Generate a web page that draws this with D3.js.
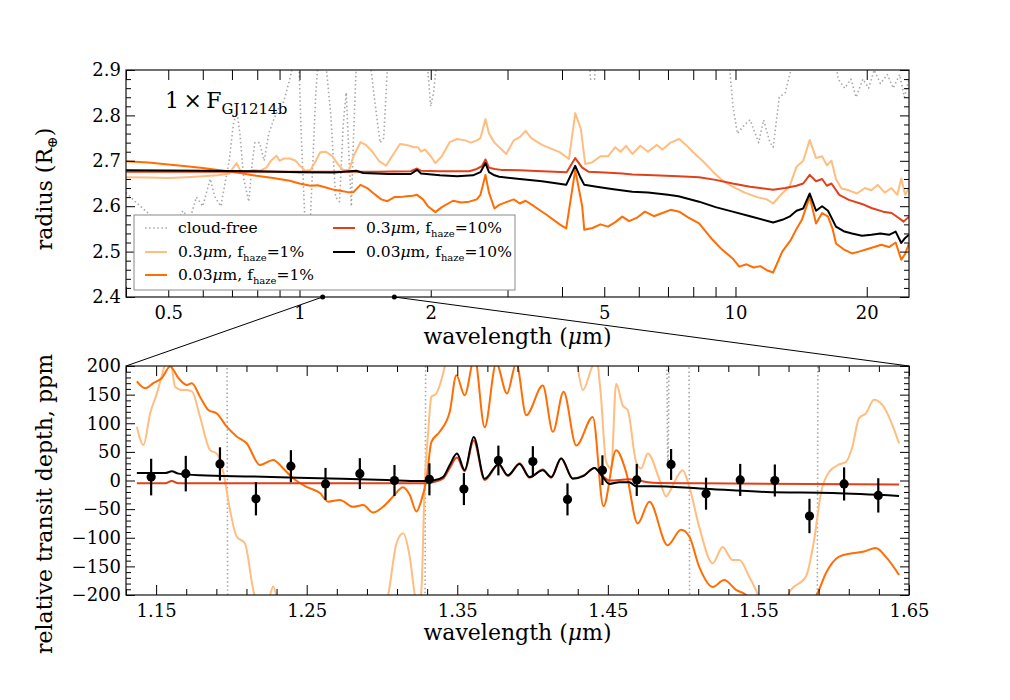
<!DOCTYPE html>
<html><head><meta charset="utf-8">
<script src="https://cdn.jsdelivr.net/npm/d3@7"></script>
<style>
body{margin:0;background:#fff;}
svg text{font-family:"DejaVu Serif","Liberation Serif",serif;fill:#000;}
</style></head><body>
<svg id="chart" width="1010" height="700"></svg>
<script>
// ---------------- DATA ----------------
// Top panel: wavelength (micron), radius (R_earth)
const topCloudFree = [[0.40,2.63],[0.42,2.61],[0.455,2.58],[0.48,2.55],[0.51,2.54],[0.54,2.59],[0.56,2.57],[0.58,2.62],[0.60,2.60],[0.624,2.66],[0.64,2.62],[0.66,2.60],[0.69,2.70],[0.705,2.78],[0.718,2.81],[0.73,2.76],[0.745,2.66],[0.757,2.63],[0.765,2.61],[0.78,2.70],[0.79,2.74],[0.81,2.74],[0.83,2.70],[0.85,2.76],[0.872,2.79],[0.90,2.82],[0.92,2.83],[0.95,2.88],[0.97,2.92],[0.99,3.0],[1.01,2.75],[1.03,2.56],[1.06,2.58],[1.09,2.85],[1.11,2.95],[1.14,2.95],[1.18,2.80],[1.21,2.62],[1.235,2.61],[1.26,2.78],[1.28,2.85],[1.30,2.70],[1.315,2.60],[1.33,2.75],[1.36,3.0],[1.42,3.0],[1.48,2.85],[1.53,2.74],[1.56,2.75],[1.60,2.95],[1.80,3.1],[1.95,2.95],[2.0,2.82],[2.03,2.85],[2.08,2.95],[3.0,3.1],[4.55,3.0],[4.65,2.88],[4.75,2.88],[4.85,3.0],[9.4,3.0],[9.7,2.9],[9.87,2.82],[10.1,2.76],[10.5,2.78],[10.8,2.79],[11.1,2.76],[11.3,2.74],[11.6,2.79],[12.0,2.74],[12.2,2.73],[12.6,2.84],[13.0,2.85],[13.4,2.90],[13.8,3.0],[16.5,3.0],[17.2,2.88],[17.8,2.86],[18.4,2.88],[18.9,2.84],[19.6,2.88],[20.2,2.86],[20.8,2.90],[21.5,2.87],[22.3,2.89],[23.0,2.86],[23.8,2.89],[24.4,2.84],[25,2.88]];
const topHaze03Pct1 = [[0.40,2.664],[0.45,2.663],[0.50,2.662],[0.55,2.664],[0.60,2.666],[0.65,2.668],[0.69,2.672],[0.705,2.685],[0.717,2.695],[0.73,2.68],[0.75,2.675],[0.78,2.68],[0.81,2.678],[0.84,2.685],[0.86,2.70],[0.886,2.711],[0.90,2.70],[0.92,2.705],[0.95,2.705],[0.98,2.70],[1.00,2.69],[1.03,2.678],[1.06,2.68],[1.09,2.70],[1.116,2.719],[1.15,2.72],[1.19,2.71],[1.23,2.69],[1.26,2.68],[1.30,2.68],[1.33,2.71],[1.38,2.741],[1.42,2.735],[1.47,2.72],[1.52,2.70],[1.58,2.689],[1.63,2.71],[1.70,2.737],[1.76,2.735],[1.83,2.73],[1.87,2.73],[1.90,2.72],[1.94,2.725],[2.0,2.71],[2.05,2.695],[2.12,2.71],[2.21,2.741],[2.30,2.748],[2.40,2.745],[2.47,2.74],[2.55,2.745],[2.60,2.75],[2.67,2.792],[2.72,2.76],[2.80,2.74],[2.98,2.715],[3.10,2.745],[3.2,2.752],[3.3,2.766],[3.4,2.75],[3.6,2.735],[3.95,2.719],[4.15,2.704],[4.29,2.805],[4.42,2.77],[4.52,2.693],[4.7,2.697],[4.9,2.71],[5.1,2.71],[5.3,2.73],[5.45,2.72],[5.61,2.733],[5.8,2.715],[6.05,2.733],[6.3,2.72],[6.6,2.735],[6.8,2.725],[7.1,2.74],[7.43,2.748],[7.7,2.735],[8.0,2.719],[8.4,2.70],[8.9,2.675],[9.35,2.656],[9.85,2.643],[10.5,2.63],[11.2,2.62],[11.8,2.615],[12.2,2.606],[12.7,2.625],[13.3,2.643],[13.8,2.687],[14.3,2.70],[14.8,2.746],[15.3,2.706],[15.8,2.71],[16.2,2.69],[16.6,2.70],[17.0,2.66],[17.5,2.639],[18.2,2.635],[19.0,2.628],[19.8,2.64],[20.5,2.635],[21.2,2.647],[22.0,2.63],[22.8,2.64],[23.5,2.625],[24.0,2.661],[24.5,2.625],[25,2.64]];
const topHaze003Pct1 = [[0.40,2.699],[0.45,2.696],[0.50,2.692],[0.55,2.688],[0.60,2.684],[0.67,2.678],[0.73,2.673],[0.797,2.667],[0.87,2.662],[0.95,2.656],[1.00,2.650],[1.06,2.645],[1.10,2.646],[1.15,2.641],[1.20,2.636],[1.24,2.634],[1.29,2.631],[1.33,2.631],[1.38,2.647],[1.43,2.64],[1.48,2.628],[1.54,2.615],[1.59,2.611],[1.65,2.62],[1.70,2.62],[1.76,2.622],[1.82,2.623],[1.86,2.625],[1.92,2.615],[1.97,2.60],[2.05,2.587],[2.12,2.598],[2.25,2.612],[2.35,2.608],[2.45,2.61],[2.55,2.615],[2.60,2.625],[2.67,2.669],[2.72,2.63],[2.80,2.595],[2.87,2.603],[3.0,2.61],[3.1,2.615],[3.2,2.606],[3.3,2.612],[3.45,2.60],[3.7,2.58],[3.95,2.56],[4.09,2.551],[4.29,2.68],[4.45,2.60],[4.5,2.548],[4.7,2.552],[4.9,2.56],[5.1,2.555],[5.3,2.565],[5.5,2.577],[5.7,2.567],[5.95,2.575],[6.2,2.588],[6.5,2.578],[6.8,2.585],[7.1,2.592],[7.43,2.588],[7.8,2.575],[8.25,2.562],[8.86,2.526],[9.3,2.505],[9.85,2.485],[10.2,2.467],[10.6,2.472],[11.0,2.465],[11.4,2.468],[11.8,2.459],[12.2,2.454],[12.8,2.50],[13.4,2.526],[13.8,2.55],[14.2,2.57],[14.8,2.621],[15.3,2.562],[15.8,2.585],[16.3,2.577],[16.7,2.55],[17.0,2.518],[17.7,2.505],[18.5,2.496],[19.2,2.50],[20.0,2.505],[20.8,2.51],[21.6,2.515],[22.5,2.51],[23.3,2.52],[24.0,2.482],[24.5,2.495],[25,2.518]];
const topHaze03Pct10 = [[0.40,2.676],[0.6,2.676],[1.0,2.676],[1.5,2.676],[1.8,2.677],[1.86,2.683],[1.9,2.678],[2.1,2.677],[2.45,2.677],[2.55,2.682],[2.62,2.688],[2.67,2.703],[2.72,2.685],[2.8,2.682],[2.9,2.68],[3.2,2.679],[3.6,2.677],[4.1,2.675],[4.29,2.706],[4.45,2.685],[4.6,2.676],[5.0,2.674],[5.5,2.672],[5.8,2.67],[6.5,2.668],[7.4,2.666],[8.25,2.664],[9.0,2.658],[9.85,2.65],[10.8,2.643],[12.2,2.636],[13.0,2.64],[13.8,2.645],[14.3,2.65],[14.8,2.669],[15.3,2.655],[15.8,2.66],[16.2,2.645],[16.6,2.65],[17.3,2.625],[18.2,2.614],[19.5,2.605],[20.5,2.596],[21.8,2.588],[22.8,2.585],[23.6,2.575],[24.3,2.566],[25,2.577]];
const topHaze003Pct10 = [[0.40,2.679],[0.6,2.678],[0.8,2.677],[1.0,2.675],[1.2,2.674],[1.35,2.678],[1.4,2.673],[1.6,2.671],[1.8,2.671],[1.86,2.68],[1.9,2.672],[2.1,2.668],[2.3,2.666],[2.5,2.668],[2.6,2.675],[2.67,2.695],[2.72,2.675],[2.8,2.668],[2.87,2.665],[3.2,2.66],[3.6,2.655],[4.09,2.647],[4.29,2.689],[4.4,2.665],[4.5,2.647],[4.8,2.643],[5.2,2.638],[5.8,2.632],[6.3,2.63],[7.0,2.625],[7.4,2.622],[8.25,2.61],[9.0,2.598],[9.85,2.588],[10.8,2.578],[12.2,2.564],[12.8,2.57],[13.3,2.577],[13.8,2.59],[14.3,2.595],[14.8,2.628],[15.3,2.59],[15.8,2.60],[16.3,2.59],[17.0,2.555],[17.7,2.545],[18.5,2.54],[19.5,2.535],[20.5,2.537],[21.5,2.54],[22.5,2.537],[23.3,2.544],[24.0,2.519],[24.5,2.53],[25,2.537]];

// Bottom panel: wavelength (micron), relative transit depth (ppm)
const botCloudFree = [[1.1372,700],[1.1963,700],[1.1983,-700],[1.3278,-700],[1.3298,700],[1.4880,700],[1.4899,22],[1.4918,700],[1.5031,700],[1.5051,-700],[1.5883,-700],[1.5903,700],[1.6434,700]];
const botHaze03Pct1 = [[1.1372,94],[1.1416,62],[1.1460,117],[1.1505,152],[1.1548,193],[1.1570,215],[1.1595,210],[1.1626,164],[1.1670,158],[1.1704,158],[1.1740,155],[1.1792,111],[1.1859,53],[1.1903,47],[1.1947,13],[1.1991,-52],[1.2035,-98],[1.2090,-110],[1.2145,-191],[1.2190,-225],[1.2240,-215],[1.2278,-185],[1.2310,-215],[1.2400,-260],[1.2800,-260],[1.3030,-210],[1.3096,-110],[1.3140,-92],[1.3184,-133],[1.3218,-200],[1.3240,-230],[1.3262,-191],[1.3284,-5],[1.3306,82],[1.3328,146],[1.3361,152],[1.3383,166],[1.3428,210],[1.3500,260],[1.4200,260],[1.4290,210],[1.4334,158],[1.4390,195],[1.4422,215],[1.4450,160],[1.4489,32],[1.4522,21],[1.4555,169],[1.4599,131],[1.4632,123],[1.4688,32],[1.4721,21],[1.4765,47],[1.4841,3],[1.4887,-28],[1.4909,-20],[1.4976,13],[1.4997,18],[1.5041,-11],[1.5107,-81],[1.5196,-145],[1.5262,-116],[1.5328,-139],[1.5373,-139],[1.5439,-168],[1.5483,-191],[1.5530,-220],[1.5620,-240],[1.5716,-191],[1.5815,-168],[1.5870,-104],[1.5915,-22],[1.5970,15],[1.6036,28],[1.6080,32],[1.6124,59],[1.6168,109],[1.6213,117],[1.6267,141],[1.6323,132],[1.6434,65]];
const botHaze003Pct1 = [[1.1372,173],[1.1427,161],[1.1482,170],[1.1538,179],[1.1593,199],[1.1648,179],[1.1704,167],[1.1737,170],[1.1792,146],[1.1847,123],[1.1903,117],[1.1969,94],[1.2035,77],[1.2101,65],[1.2190,27],[1.2278,36],[1.2344,21],[1.2410,4],[1.2499,-11],[1.2588,-22],[1.2643,-37],[1.2720,-34],[1.2808,-46],[1.2875,-43],[1.2941,-56],[1.3007,-46],[1.3074,-28],[1.3140,-12],[1.3184,-25],[1.3229,-54],[1.3262,-34],[1.3295,1],[1.3328,67],[1.3383,85],[1.3450,120],[1.3494,184],[1.3549,149],[1.3615,215],[1.3682,93],[1.3759,205],[1.3830,152],[1.3892,205],[1.3958,114],[1.4068,166],[1.4135,85],[1.4206,155],[1.4290,61],[1.4400,111],[1.4471,-45],[1.4555,53],[1.4621,15],[1.4698,-75],[1.4776,-37],[1.4897,-113],[1.4986,-86],[1.5041,-98],[1.5107,-151],[1.5196,-186],[1.5273,-174],[1.5351,-191],[1.5417,-200],[1.5500,-235],[1.5750,-240],[1.5850,-215],[1.5892,-197],[1.5948,-162],[1.6036,-133],[1.6124,-127],[1.6202,-124],[1.6279,-118],[1.6345,-133],[1.6434,-165]];
const botHaze03Pct10 = [[1.1372,-5],[1.1560,-5],[1.1604,-1],[1.1648,-5],[1.2500,-5],[1.3295,-5],[1.3339,-3],[1.3405,3],[1.3450,22],[1.3498,40],[1.3549,16],[1.3609,70],[1.3682,1],[1.3775,28],[1.3836,8],[1.3914,30],[1.3980,5],[1.4068,19],[1.4124,5],[1.4190,38],[1.4267,4],[1.4340,9],[1.4411,22],[1.4466,8],[1.4511,0],[1.4643,2],[1.4798,-4],[1.5111,-5],[1.6434,-7]];
const botHaze003Pct10 = [[1.1372,13],[1.1500,13],[1.1560,13],[1.1604,16],[1.1648,12],[1.1792,9],[1.2145,7],[1.2588,4],[1.3030,1],[1.3251,-1],[1.3339,0],[1.3405,6],[1.3450,27],[1.3498,47],[1.3549,18],[1.3609,76],[1.3682,3],[1.3775,29],[1.3836,9],[1.3914,29],[1.3980,6],[1.4068,18],[1.4124,6],[1.4190,39],[1.4267,3],[1.4340,8],[1.4411,22],[1.4466,6],[1.4511,-6],[1.4577,-3],[1.4643,-3],[1.4688,-10],[1.4798,-10],[1.5111,-14],[1.5550,-20],[1.5992,-22],[1.6434,-27]];

// Observations
const obsWavelength = [1.1467,1.1697,1.1924,1.2163,1.2395,1.2625,1.2853,1.3083,1.3315,1.3544,1.3773,1.4002,1.4232,1.4464,1.4692,1.4920,1.5152,1.5379,1.5609,1.5839,1.6069,1.6296];
const obsDepth = [6,12,29,-32,25,-6,12,0,2,-15,35,33,-33,18,1,28,-23,1,0,-62,-6,-26];
const obsError = [32,31,29,29,28,28,27,27,28,28,26,27,28,26,28,27,28,28,28,30,29,30];

// Ticks
const topXTicks = [0.5,1,2,5,10,20];
const topXMinor = [0.4,0.6,0.7,0.8,0.9,3,4,6,7,8,9];
const topYTicks = [2.4,2.5,2.6,2.7,2.8,2.9];
const botXTicks = [1.15,1.25,1.35,1.45,1.55,1.65];
const botYTicks = [-200,-150,-100,-50,0,50,100,150,200];

const legendLabels = ["cloud-free","0.3μm, f_haze=1%","0.03μm, f_haze=1%","0.3μm, f_haze=10%","0.03μm, f_haze=10%"];

// ---------------- CHART ----------------
const svg = d3.select("#chart");
const topBox = {l:126, r:909, t:70, b:297};
const botBox = {l:126, r:909, t:366, b:595};

const xTop = d3.scaleLog().domain([0.4,25]).range([topBox.l, topBox.r]);
const yTop = d3.scaleLinear().domain([2.4,2.9]).range([topBox.b, topBox.t]);
const xBot = d3.scaleLinear().domain([1.13,1.65]).range([botBox.l, botBox.r]);
const yBot = d3.scaleLinear().domain([-200,200]).range([botBox.b, botBox.t]);

const styles = [
  {stroke:"#a8a8a8", width:1.6, dash:"1.5,2.6"},
  {stroke:"#ffbd80", width:2},
  {stroke:"#ff6d05", width:2},
  {stroke:"#e2401a", width:2},
  {stroke:"#000000", width:2}
];

const defs = svg.append("defs");
[["clipTop",topBox],["clipBot",botBox]].forEach(([id,b])=>{
  defs.append("clipPath").attr("id",id).append("rect")
    .attr("x",b.l).attr("y",b.t).attr("width",b.r-b.l).attr("height",b.b-b.t);
});

function drawSeries(list, x, y, curve, clip){
  const g = svg.append("g").attr("clip-path",`url(#${clip})`);
  const line = d3.line().x(d=>x(d[0])).y(d=>y(d[1])).curve(curve);
  list.forEach((data,i)=>{
    const s = styles[i];
    g.append("path").datum(data).attr("d",line)
      .attr("fill","none").attr("stroke",s.stroke).attr("stroke-width",s.width)
      .attr("stroke-dasharray",s.dash||null).attr("stroke-linejoin","round");
  });
}

drawSeries([topCloudFree, topHaze03Pct1, topHaze003Pct1, topHaze03Pct10, topHaze003Pct10], xTop, yTop, d3.curveLinear, "clipTop");
drawSeries([botCloudFree, botHaze03Pct1, botHaze003Pct1, botHaze03Pct10, botHaze003Pct10], xBot, yBot, d3.curveMonotoneX, "clipBot");

// observations
const obs = svg.append("g").attr("clip-path","url(#clipBot)");
obsWavelength.forEach((w,i)=>{
  obs.append("line").attr("x1",xBot(w)).attr("x2",xBot(w))
    .attr("y1",yBot(obsDepth[i]-obsError[i])).attr("y2",yBot(obsDepth[i]+obsError[i]))
    .attr("stroke","#000").attr("stroke-width",2.2);
  obs.append("circle").attr("cx",xBot(w)).attr("cy",yBot(obsDepth[i])).attr("r",4.6).attr("fill","#000");
});

// axes
function styleAxis(g){
  g.select(".domain").remove();
  g.selectAll(".tick line").attr("stroke","#000").attr("stroke-width",1);
  g.selectAll(".tick text").attr("font-size",18).attr("font-family","DejaVu Serif, serif");
}
function addAxes(x, y, b, xMaj, xMin, yMaj, yMin, xFmt, yFmt, xMajLen, xMinLen){
  svg.append("g").attr("transform",`translate(0,${b.b})`)
    .call(d3.axisBottom(x).tickValues(xMaj).tickFormat(xFmt).tickSize(-xMajLen).tickPadding(9)).call(styleAxis);
  svg.append("g").attr("transform",`translate(0,${b.b})`)
    .call(d3.axisBottom(x).tickValues(xMin).tickFormat("").tickSize(-xMinLen)).call(styleAxis);
  svg.append("g").attr("transform",`translate(0,${b.t})`)
    .call(d3.axisTop(x).tickValues(xMaj).tickFormat("").tickSize(-xMajLen)).call(styleAxis);
  svg.append("g").attr("transform",`translate(0,${b.t})`)
    .call(d3.axisTop(x).tickValues(xMin).tickFormat("").tickSize(-xMinLen)).call(styleAxis);
  svg.append("g").attr("transform",`translate(${b.l},0)`)
    .call(d3.axisLeft(y).tickValues(yMaj).tickFormat(yFmt).tickSize(-9).tickPadding(5)).call(styleAxis);
  svg.append("g").attr("transform",`translate(${b.l},0)`)
    .call(d3.axisLeft(y).tickValues(yMin).tickFormat("").tickSize(-5)).call(styleAxis);
  svg.append("g").attr("transform",`translate(${b.r},0)`)
    .call(d3.axisRight(y).tickValues(yMaj).tickFormat("").tickSize(-9)).call(styleAxis);
  svg.append("g").attr("transform",`translate(${b.r},0)`)
    .call(d3.axisRight(y).tickValues(yMin).tickFormat("").tickSize(-5)).call(styleAxis);
  svg.append("rect").attr("x",b.l).attr("y",b.t).attr("width",b.r-b.l).attr("height",b.b-b.t)
    .attr("fill","none").attr("stroke","#111").attr("stroke-width",1.2);
}
const topYMinor = d3.range(2.42,2.9,0.02).filter(v=>Math.abs(v*10-Math.round(v*10))>0.01);
const botXMinor = d3.range(1.13,1.651,0.02).filter(v=>Math.abs(((v-1.15)*10)-Math.round((v-1.15)*10))>0.01);
const botYMinor = d3.range(-190,200,10).filter(v=>v%50!==0);
addAxes(xTop,yTop,topBox,topXTicks,topXMinor,topYTicks,topYMinor,d=>String(d),d3.format(".1f"),10,10);
addAxes(xBot,yBot,botBox,botXTicks,botXMinor,botYTicks,botYMinor,d3.format(".2f"),d3.format("d"),10,6);

// axis labels
function wlLabel(yPos){
  const t = svg.append("text").attr("x",(topBox.l+topBox.r)/2).attr("y",yPos)
    .attr("text-anchor","middle").attr("font-size",22);
  t.append("tspan").text("wavelength (");
  t.append("tspan").attr("font-style","italic").text("μ");
  t.append("tspan").text("m)");
}
wlLabel(344);
wlLabel(640);

const yl1 = svg.append("text").attr("transform",`translate(52,189) rotate(-90)`)
  .attr("text-anchor","middle").attr("font-size",22);
yl1.append("tspan").text("radius (R");
yl1.append("tspan").attr("font-size",14).attr("dy",5).text("⊕");
yl1.append("tspan").attr("dy",-5).text(")");

svg.append("text").attr("transform",`translate(52,504) rotate(-90)`)
  .attr("text-anchor","middle").attr("font-size",22).text("relative transit depth, ppm");

// annotation
const ann = svg.append("text").attr("x",165).attr("y",108).attr("font-size",22);
ann.append("tspan").text("1\u2009×\u2009F");
ann.append("tspan").attr("font-size",15).attr("dy",6).text("GJ1214b");

// legend
const lg = svg.append("g");
lg.append("rect").attr("x",134).attr("y",215).attr("width",381).attr("height",75)
  .attr("fill","#fff").attr("stroke","#8a8a8a").attr("stroke-width",1);
const legPos = [[145,228],[145,252],[145,275],[333,228],[333,252]];
legendLabels.forEach((lab,i)=>{
  const [lx,ly] = legPos[i];
  const s = styles[i];
  lg.append("line").attr("x1",lx).attr("x2",lx+22).attr("y1",ly).attr("y2",ly)
    .attr("stroke",s.stroke).attr("stroke-width",s.width).attr("stroke-dasharray",s.dash||null);
  const t = lg.append("text").attr("x",lx+33).attr("y",ly+5).attr("font-size",15.5);
  const parts = lab.split("_");
  if(parts.length===1){ t.text(lab); return; }
  const m = parts[0].match(/^(.*?)μ(.*)$/);
  t.append("tspan").text(m[1]);
  t.append("tspan").attr("font-style","italic").text("μ");
  t.append("tspan").text(m[2]);
  const rest = parts[1];
  const sub = rest.slice(0,4), tail = rest.slice(4);
  t.append("tspan").attr("font-size",10).attr("dy",4).text(sub);
  t.append("tspan").attr("dy",-4).text(tail);
});

// zoom connectors
const cx1 = xTop(xBot.domain()[0]), cx2 = xTop(xBot.domain()[1]), cy = yTop(yTop.domain()[0]);
const conn = svg.append("g");
conn.append("line").attr("x1",cx1).attr("y1",cy).attr("x2",xBot.range()[0]).attr("y2",yBot(200)).attr("stroke","#000").attr("stroke-width",1);
conn.append("line").attr("x1",cx2).attr("y1",cy).attr("x2",xBot.range()[1]).attr("y2",yBot(200)).attr("stroke","#000").attr("stroke-width",1);
conn.append("circle").attr("cx",cx1).attr("cy",cy).attr("r",2.5).attr("fill","#000");
conn.append("circle").attr("cx",cx2).attr("cy",cy).attr("r",2.5).attr("fill","#000");
</script>
</body></html>
